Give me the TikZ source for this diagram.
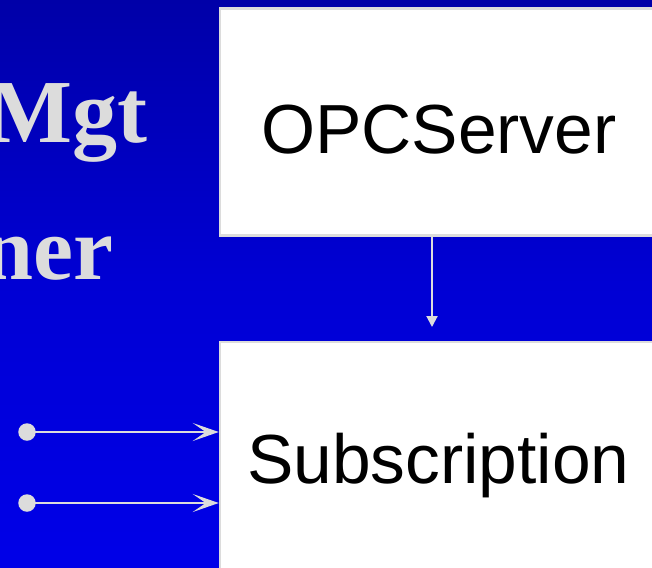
\documentclass[tikz,border=0pt]{standalone}
\usepackage{fontspec}
\setmainfont{Liberation Serif}
\newfontfamily\arialfont{Liberation Sans}
\usetikzlibrary{arrows.meta}
\definecolor{bgtop}{HTML}{0000A8}
\definecolor{bgmid}{HTML}{0000D4}
\definecolor{bgbot}{HTML}{0000E8}
\definecolor{lightline}{HTML}{DCDCDC}
\begin{document}
\begin{tikzpicture}[x=1pt,y=-1pt,
  box/.style={draw=lightline,line width=2.5pt,fill=white,rectangle,inner sep=0pt},
  boxtext/.style={font=\arialfont\fontsize{69.5}{80}\selectfont,text=black,inner sep=0pt,anchor=base west},
  sidetext/.style={font=\fontsize{90}{100}\selectfont\bfseries,text=lightline,inner sep=0pt,anchor=base east},
  conn/.style={draw=lightline,line width=2pt},
  dot/.style={circle,fill=lightline,inner sep=0pt,minimum size=17.5pt}]
\useasboundingbox (0,0) rectangle (652,567);
\clip (0,0) rectangle (652,567);
\shade[top color=bgtop,bottom color=bgbot,middle color=bgmid] (0,0) rectangle (652,567);
% side labels
\node[sidetext] (mgt) at (148,142) {Mgt};
\node[sidetext] (ner) at (114,279) {ner};
% boxes
\node[box,minimum width=436pt,minimum height=227pt] (opc) at (438,122) {};
\node[box,minimum width=440pt,minimum height=260pt] (sub) at (440,472) {};
\node[boxtext] (opct) at (261,153) {OPCServer};
\node[boxtext] (subt) at (247,483) {Subscription};
% down arrow
\coordinate (downend) at (432,327);
\draw[conn,-{Triangle[width=11pt,length=11pt]}] (opc.south -| downend) -- (downend);
% left arrows
\node[dot] (d1) at (27,432) {};
\node[dot] (d2) at (27,503) {};
\draw[conn,-{Stealth[width=18pt,length=26pt,inset=13pt]}] (d1.center) -- (d1 -| sub.west);
\draw[conn,-{Stealth[width=18pt,length=26pt,inset=13pt]}] (d2.center) -- (d2 -| sub.west);
\end{tikzpicture}
\end{document}
